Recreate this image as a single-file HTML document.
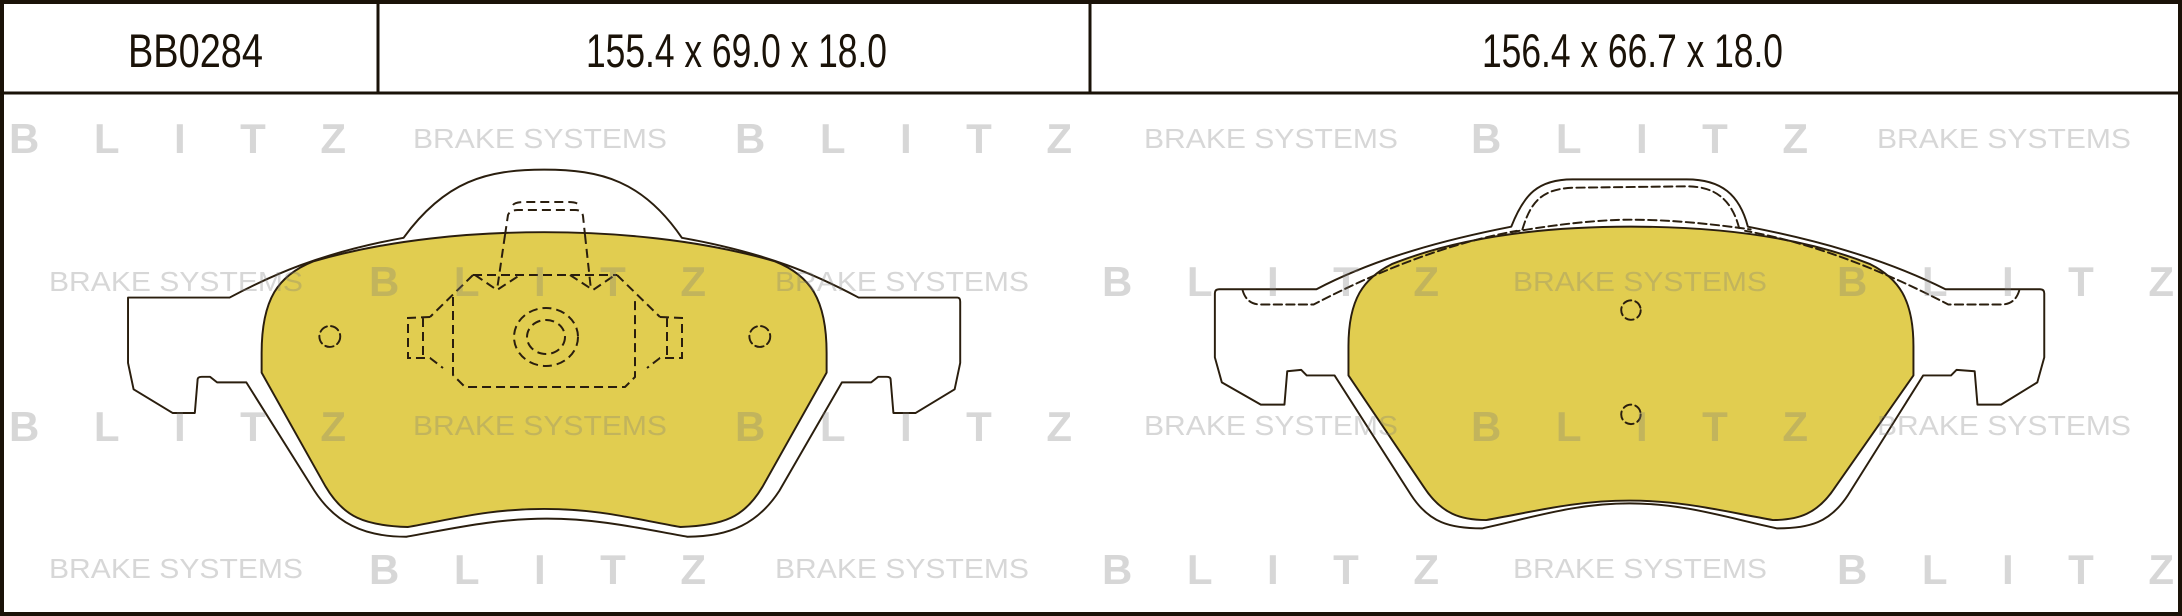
<!DOCTYPE html>
<html><head><meta charset="utf-8"><style>
html,body{margin:0;padding:0;background:#fff}
svg{display:block}
.bl{font-family:"Liberation Sans",sans-serif;font-weight:bold;font-size:42px;fill:#7a7a7a;fill-opacity:0.3}
.bs{font-family:"Liberation Sans",sans-serif;font-size:28px;fill:#7a7a7a;fill-opacity:0.3}
.hd{font-family:"Liberation Sans",sans-serif;font-size:47px;fill:#1a1208}
</style></head><body>
<svg width="2182" height="616" viewBox="0 0 2182 616" xmlns="http://www.w3.org/2000/svg">
<rect x="0" y="0" width="2182" height="616" fill="#fff"/>
<g transform="scale(1.3916,1.3905)" stroke="#2a1e0e" stroke-width="1.4" stroke-linejoin="round" stroke-linecap="round">
  <!-- left pad -->
  <path fill="#fff" d="M92,214 L165,214 C195,198 230,182 290,171 C320,130 350,122 391,122 C432,122 462,130 490,171 C552,182 587,198 617,214 L688,214 Q690,214 690,217 L690,261 L686,280 L658,297 L642,297 L640,273 Q640,271 637,271 L631,271 L626,275 L605,275 L560,353 C545,376 525,386 494,386 C460,380 430,373 393,373 C356,373 326,380 292,386 C261,386 241,376 226,353 L177,275 L156,275 L151,271 L145,271 Q142,271 142,273 L140,297 L124,297 L96,280 L92,261 Z"/>
  <path fill="#e1cd50" d="M188,254 C188,215 200,198 225,188 C280,172 340,167 391,167 C442,167 502,172 557,188 C582,198 594,215 594,254 L594,268 L548,350 C535,372 520,378 489,379 C455,373 430,366 391,366 C352,366 327,373 293,379 C262,378 247,372 234,350 L188,268 Z"/>
  <!-- right pad -->
  <path fill="#fff" d="M873,211 Q873,208 876,208 L946,208 C990,185 1040,172 1086,163 C1095,140 1105,129 1130,129 L1212,129 C1237,129 1250,140 1256,163 C1302,172 1352,185 1398,208 L1466,208 Q1469,208 1469,211 L1469,257 L1464,275 L1438,291 L1421,291 L1419,267 L1406,266 L1402,270 L1382,270 L1328,356 C1315,376 1300,380 1277,380 C1240,372 1210,362 1171,362 C1132,362 1102,372 1065,380 C1042,380 1027,376 1014,356 L959,270 L939,270 L935,266 L925,267 L923,291 L906,291 L878,275 L873,257 Z"/>
  <path fill="#e1cd50" d="M969,249 C969,215 980,200 1000,190 C1050,170 1110,163 1172,163 C1234,163 1294,170 1344,190 C1364,200 1375,215 1375,249 L1375,270 L1319,350 C1306,370 1292,374 1274,374 C1240,368 1210,360 1171,360 C1132,360 1102,368 1068,374 C1050,374 1036,370 1023,350 L969,270 Z"/>
  <g fill="none" stroke-dasharray="6,3">
    <path d="M893,209 Q896,219 906,219 L944,219 C990,195 1040,175 1090,166"/>
    <path d="M1451,209 Q1448,219 1438,219 L1400,219 C1354,195 1304,175 1254,166"/>
    <path d="M1094,165 C1100,145 1108,136 1130,135 L1212,134 C1234,134 1245,145 1250,165"/>
    <path d="M1086,167 C1120,161 1150,158 1172,158 C1200,158 1230,161 1258,165"/>
    <circle cx="1172" cy="223" r="7"/>
    <circle cx="1172" cy="298" r="7"/>
    <circle cx="237" cy="242" r="7.5"/>
    <circle cx="546" cy="242" r="7.5"/>
  </g>
</g>
<!-- piston details (real coords) -->
<g fill="none" stroke="#2a1e0e" stroke-width="2" stroke-dasharray="9,5">
  <path d="M473,275 L617,275"/>
  <path d="M473,275 L430,317 M453,297 L453,375 L465,387 L625,387 L635,377 L635,297 M617,275 L660,317"/>
  <path d="M430,317 L408,318 L408,358 L430,358 L443,368 M423,318 L423,358"/>
  <path d="M660,317 L682,318 L682,358 L660,358 L647,368 M667,318 L667,358"/>
  <path d="M475,275 L497,290 L520,275 M570,275 L593,290 L615,275"/>
  <path d="M505,235 L497,290 M585,235 L591,290"/>
  <path d="M505,235 L508,215 Q510,210 518,210 L575,210 Q582,210 583,216 L585,235"/>
  <path d="M513,205 Q515,202 525,202 L568,202 Q578,202 580,206"/>
  <ellipse cx="546" cy="337" rx="32" ry="29"/>
  <ellipse cx="546" cy="337" rx="19" ry="17"/>
</g>
<!-- watermarks -->
<g>
  <text class="bl" x="9" y="153" textLength="337" lengthAdjust="spacing">BLITZ</text>
  <text class="bs" x="413" y="148" textLength="254" lengthAdjust="spacingAndGlyphs">BRAKE SYSTEMS</text>
  <text class="bl" x="735" y="153" textLength="337" lengthAdjust="spacing">BLITZ</text>
  <text class="bs" x="1144" y="148" textLength="254" lengthAdjust="spacingAndGlyphs">BRAKE SYSTEMS</text>
  <text class="bl" x="1471" y="153" textLength="337" lengthAdjust="spacing">BLITZ</text>
  <text class="bs" x="1877" y="148" textLength="254" lengthAdjust="spacingAndGlyphs">BRAKE SYSTEMS</text>

  <text class="bs" x="49" y="291" textLength="254" lengthAdjust="spacingAndGlyphs">BRAKE SYSTEMS</text>
  <text class="bl" x="369" y="296" textLength="337" lengthAdjust="spacing">BLITZ</text>
  <text class="bs" x="775" y="291" textLength="254" lengthAdjust="spacingAndGlyphs">BRAKE SYSTEMS</text>
  <text class="bl" x="1102" y="296" textLength="337" lengthAdjust="spacing">BLITZ</text>
  <text class="bs" x="1513" y="291" textLength="254" lengthAdjust="spacingAndGlyphs">BRAKE SYSTEMS</text>
  <text class="bl" x="1837" y="296" textLength="337" lengthAdjust="spacing">BLITZ</text>

  <text class="bl" x="9" y="441" textLength="337" lengthAdjust="spacing">BLITZ</text>
  <text class="bs" x="413" y="435" textLength="254" lengthAdjust="spacingAndGlyphs">BRAKE SYSTEMS</text>
  <text class="bl" x="735" y="441" textLength="337" lengthAdjust="spacing">BLITZ</text>
  <text class="bs" x="1144" y="435" textLength="254" lengthAdjust="spacingAndGlyphs">BRAKE SYSTEMS</text>
  <text class="bl" x="1471" y="441" textLength="337" lengthAdjust="spacing">BLITZ</text>
  <text class="bs" x="1877" y="435" textLength="254" lengthAdjust="spacingAndGlyphs">BRAKE SYSTEMS</text>

  <text class="bs" x="49" y="578" textLength="254" lengthAdjust="spacingAndGlyphs">BRAKE SYSTEMS</text>
  <text class="bl" x="369" y="584" textLength="337" lengthAdjust="spacing">BLITZ</text>
  <text class="bs" x="775" y="578" textLength="254" lengthAdjust="spacingAndGlyphs">BRAKE SYSTEMS</text>
  <text class="bl" x="1102" y="584" textLength="337" lengthAdjust="spacing">BLITZ</text>
  <text class="bs" x="1513" y="578" textLength="254" lengthAdjust="spacingAndGlyphs">BRAKE SYSTEMS</text>
  <text class="bl" x="1837" y="584" textLength="337" lengthAdjust="spacing">BLITZ</text>
</g>
<!-- header -->
<g fill="none" stroke="#1a1208">
  <rect x="2" y="2" width="2178" height="612" stroke-width="4"/>
  <line x1="0" y1="93" x2="2182" y2="93" stroke-width="3"/>
  <line x1="378" y1="0" x2="378" y2="93" stroke-width="3"/>
  <line x1="1090" y1="0" x2="1090" y2="93" stroke-width="3"/>
</g>
<text class="hd" x="128" y="67" textLength="135" lengthAdjust="spacingAndGlyphs">BB0284</text>
<text class="hd" x="586" y="67" textLength="301" lengthAdjust="spacingAndGlyphs">155.4 x 69.0 x 18.0</text>
<text class="hd" x="1482" y="67" textLength="301" lengthAdjust="spacingAndGlyphs">156.4 x 66.7 x 18.0</text>
</svg>
</body></html>
